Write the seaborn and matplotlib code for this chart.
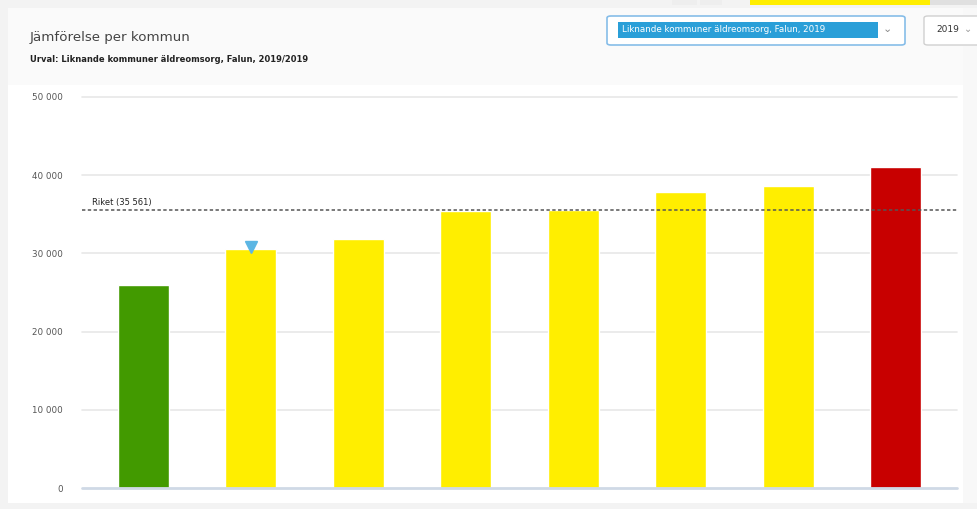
import pandas as pd
import matplotlib
matplotlib.use('Agg')
import matplotlib.pyplot as plt
import matplotlib.transforms as mtrans
from matplotlib.patches import Rectangle, FancyBboxPatch
from matplotlib.ticker import FuncFormatter
import seaborn as sns

# data
kommuner = ["K1", "K2", "K3", "K4", "K5", "K6", "K7", "K8"]
kostnad = [26000, 30500, 31800, 35400, 35500, 37850, 38650, 41050]
farger = ["#429a00", "#ffee00", "#ffee00", "#ffee00", "#ffee00", "#ffee00", "#ffee00", "#c80000"]
riket = 35561
markerad = 1  # Falun
y_ticks = [0, 10000, 20000, 30000, 40000, 50000]

W, H = 977, 509
sns.set_theme(style="white")
plt.rcParams['font.family'] = ['DejaVu Sans']

fig = plt.figure(figsize=(W / 100, H / 100), dpi=100)
fig.patch.set_facecolor("#f3f3f3")


def box(x0, y0, x1, y1, **kw):
    # rectangle in pixel coords (from top-left)
    return Rectangle((x0 / W, 1 - y1 / H), (x1 - x0) / W, (y1 - y0) / H,
                     transform=fig.transFigure, **kw)


# panel background
fig.add_artist(box(8, 8, 963, 503, facecolor="white", edgecolor="none", zorder=0))
fig.add_artist(box(8, 8, 963, 85, facecolor="#fafafa", edgecolor="none", zorder=0))
fig.add_artist(box(963, 8, 977, 503, facecolor="#f8f8f8", edgecolor="none", zorder=0))
# top strip
fig.add_artist(box(750, 0, 930, 5, facecolor="#ffee00", edgecolor="none"))
fig.add_artist(box(930, 0, 977, 5, facecolor="#e0e0e0", edgecolor="none"))
fig.add_artist(box(672, 0, 697, 5, facecolor="#eeeeee", edgecolor="none"))
fig.add_artist(box(700, 0, 722, 5, facecolor="#eeeeee", edgecolor="none"))

# header texts
fig.text(30 / W, 1 - 37 / H, "Jämförelse per kommun", fontsize=9.6, color="#444444",
         va="center", ha="left")
fig.text(30 / W, 1 - 59 / H, "Urval: Liknande kommuner äldreomsorg, Falun, 2019/2019",
         fontsize=6.0, color="#222222", fontweight="bold", va="center", ha="left")

# dropdowns
fig.add_artist(FancyBboxPatch((607 / W, 1 - 45 / H), 298 / W, 29 / H,
                              boxstyle="round,pad=0,rounding_size=0.004",
                              transform=fig.transFigure, facecolor="white",
                              edgecolor="#86bde8", linewidth=1.2))
fig.add_artist(box(618, 22, 878, 38, facecolor="#2a9fd8", edgecolor="none"))
fig.text(622 / W, 1 - 30 / H, "Liknande kommuner äldreomsorg, Falun, 2019", fontsize=6.3,
         color="white", va="center", ha="left")
fig.text(887 / W, 1 - 29 / H, "⌄", fontsize=8, color="#888888", va="center", ha="center")
fig.add_artist(FancyBboxPatch((924 / W, 1 - 45 / H), 60 / W, 29 / H,
                              boxstyle="round,pad=0,rounding_size=0.004",
                              transform=fig.transFigure, facecolor="white",
                              edgecolor="#d0d0d0", linewidth=1.0))
fig.text(936 / W, 1 - 30 / H, "2019", fontsize=6.5, color="#333333", va="center", ha="left")
fig.text(968 / W, 1 - 29 / H, "⌄", fontsize=7, color="#999999", va="center", ha="center")

# chart
ax = fig.add_axes([82 / W, 1 - 488 / H, (957 - 82) / W, (488 - 97) / H])
ax.set_facecolor("none")
df = pd.DataFrame({"kommun": kommuner, "kostnad": kostnad})
sns.barplot(data=df, x="kommun", y="kostnad", hue="kommun", palette=farger,
            legend=False, width=0.475, ax=ax, saturation=1, zorder=3)
ax.set_xlim(-0.57, len(kommuner) - 0.43)
ax.set_ylim(0, 50000)
ax.set_yticks(y_ticks)
ax.yaxis.set_major_formatter(FuncFormatter(lambda v, p: f"{int(v):,}".replace(",", " ")))
ax.tick_params(axis="y", length=0, pad=14, labelsize=6.3, labelcolor="#555555")
ax.set_xticks([])
ax.set_xlabel("")
ax.set_ylabel("")
for s in ax.spines.values():
    s.set_visible(False)
for t in y_ticks[1:]:
    ax.axhline(t, color="#e8e8e8", linewidth=1.2, zorder=1, clip_on=False)
ax.axhline(0, color="#cfd9e6", linewidth=2, zorder=4, clip_on=False)

# riket line
ax.axhline(riket, color="#555555", linewidth=1.1, linestyle=(0, (2.2, 1.6)), zorder=5)
ax.annotate(f"Riket ({riket:,})".replace(",", " "), xy=(0, riket),
            xycoords=("axes fraction", "data"), xytext=(7, 2), textcoords="offset points",
            fontsize=6.0, color="#222222", va="bottom", ha="left")

# marker for selected kommun
tr = mtrans.offset_copy(ax.transData, fig=fig, x=0, y=2, units="points")
ax.plot(markerad, kostnad[markerad], marker="v", markersize=9, color="#5cb6e4",
        transform=tr, zorder=6, clip_on=False)

plt.savefig("out.png", dpi=100, facecolor=fig.get_facecolor())
